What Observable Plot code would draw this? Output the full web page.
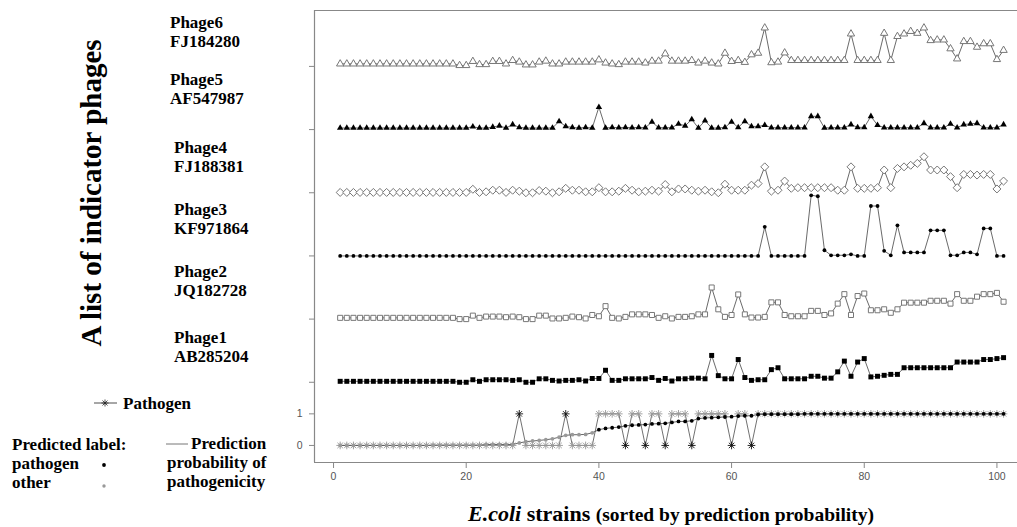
<!DOCTYPE html>
<html><head><meta charset="utf-8">
<script src="https://cdn.jsdelivr.net/npm/d3@7"></script>
<script src="https://cdn.jsdelivr.net/npm/@observablehq/plot@0.6"></script>
<style>
body{margin:0;background:#fff;}
#wrap{width:1017px;height:527px;overflow:hidden;}
</style></head><body><div id="wrap"></div>
<script>
// ---------------- data ----------------
const strains = d3.range(1, 102); // E.coli strains sorted by prediction probability

const phageNames = ["Phage1", "Phage2", "Phage3", "Phage4", "Phage5", "Phage6"];
const phageAccessions = ["AB285204", "JQ182728", "KF971864", "FJ188381", "AF547987", "FJ184280"];
const phageOffsets = [2, 4, 6, 8, 10, 12];

const phage1 = [
  .03,.03,.03,.03,.03,.03,.03,.03,.03,.03,
  .03,.03,.03,.03,.03,.03,.03,.03,0,0,
  .08,.03,.08,.08,.08,.08,.06,.08,0,0,
  .11,.11,.06,.04,.06,.06,.08,.04,.12,.12,
  .38,.06,.06,.11,.11,.11,.11,.15,.06,.12,
  .04,.11,.11,.13,.13,.11,.85,.21,.11,.11,
  .72,.15,.06,.08,.08,.40,.46,.11,.11,.11,
  .11,.19,.19,.13,.13,.33,.67,.19,.64,.75,
  .17,.19,.22,.25,.25,.46,.46,.46,.46,.46,
  .46,.46,.46,.64,.64,.64,.64,.72,.72,.75,
  .78];
const phage2 = [
  .04,.04,.04,.04,.04,.04,.04,.04,.04,.04,
  .04,.04,.04,.04,.04,.04,.04,.04,0,0,
  .11,.04,.08,.08,.08,.06,.08,.06,0,0,
  .11,.11,.02,.02,.04,.08,.06,.02,.13,.09,
  .41,.04,.02,.07,.15,.15,.15,.13,.04,.09,
  .02,.07,.07,.09,.15,.15,1.0,.31,.07,.13,
  .78,.15,.05,.05,.07,.53,.53,.13,.09,.09,
  .09,.26,.26,.13,.18,.49,.79,.13,.73,.81,
  .28,.28,.31,.20,.31,.52,.52,.52,.52,.58,
  .58,.58,.49,.79,.58,.58,.71,.79,.79,.83,
  .55];
const phage3 = [
  0,0,0,0,0,0,0,0,0,0,
  0,0,0,0,0,0,0,0,0,0,
  0,0,0,0,0,0,0,0,0,0,
  0,0,0,0,0,0,0,0,0,0,
  0,0,0,0,0,0,0,0,0,0,
  0,0,0,0,0,0,0,0,0,0,
  0,0,0,0,.92,0,0,0,0,0,
  0,1.92,1.89,.18,.02,.02,.02,.05,0,0,
  1.58,1.58,.16,.02,.97,.11,.11,.11,.11,.81,
  .81,.81,.02,.02,.11,.11,.05,.87,.87,0,
  0];
const phage4 = [
  .01,.01,.01,.01,.01,.01,.01,.01,.01,.01,
  .01,.01,.01,.01,.01,.01,.01,.01,.01,.01,
  .11,.01,.03,.08,.08,.01,.08,.05,0,0,
  .07,.05,0,.03,.14,.08,.08,.03,.03,.16,
  .03,.03,.05,.14,.08,.03,.05,.08,.05,.26,
  .03,.12,.12,.08,.05,.08,.03,0,.27,.08,
  .08,.08,.24,.29,.82,.05,.08,.37,.14,.16,
  .16,.16,.16,.16,.16,.08,.08,.82,.14,.14,
  .14,.16,.72,.16,.77,.82,.87,.93,1.14,.72,
  .72,.72,.51,.16,.58,.58,.56,.58,.58,.12,
  .37];
const phage5 = [
  .05,.05,.05,.05,.05,.05,.05,.05,.05,.05,
  .05,.05,.05,.05,.05,.05,.05,.05,.05,.05,
  .09,.05,.05,.08,.12,.05,.16,.07,.05,.05,
  .05,.05,.05,.26,.10,.07,.05,.07,.05,.71,
  .05,.07,.06,.07,.06,.07,.06,.24,.06,.06,
  .06,.18,.12,.32,.05,.28,.05,.05,.07,.24,
  .07,.26,.10,.10,.14,.06,.06,.06,.06,.06,
  .06,.42,.42,.05,.06,.06,.06,.16,.07,.07,
  .42,.14,.06,.06,.06,.06,.06,.06,.20,.06,
  .06,.06,.18,.06,.16,.18,.20,.06,.06,.06,
  .16];
const phage6 = [
  .08,.08,.08,.08,.08,.08,.08,.08,.08,.08,
  .08,.08,.08,.08,.08,.08,.08,.08,.03,.03,
  .16,.06,.06,.16,.16,.08,.19,.14,.05,.05,
  .14,.17,.08,.08,.14,.14,.14,.14,.14,.21,
  .11,.08,.06,.14,.14,.14,.11,.17,.17,.40,
  .17,.17,.17,.19,.11,.17,.11,.08,.42,.16,
  .19,.13,.37,.42,1.22,.12,.14,.43,.19,.19,
  .19,.19,.19,.19,.19,.19,.19,1.03,.19,.19,
  .19,.19,1.05,.19,.95,1.03,1.11,1.05,1.22,.82,
  .84,.84,.56,.24,.79,.79,.61,.72,.72,.22,
  .51];

// true label (1 = pathogen)
const pathogen = [
  0,0,0,0,0,0,0,0,0,0,
  0,0,0,0,0,0,0,0,0,0,
  0,0,0,0,0,0,0,1,0,0,
  0,0,0,0,1,0,0,0,0,1,
  1,1,1,0,1,1,0,1,1,0,
  1,1,1,0,1,1,1,1,1,0,
  1,1,0,1,1,1,1,1,1,1,
  1,1,1,1,1,1,1,1,1,1,
  1,1,1,1,1,1,1,1,1,1,
  1,1,1,1,1,1,1,1,1,1,
  1];
// prediction probability of pathogenicity
const probability = [
  0,0,0,0,0,0,0,0,0,0,
  0,0,0,0,.01,.01,.01,.01,.01,.01,
  .01,.01,.03,.03,.03,.03,.03,.08,.12,.14,
  .16,.18,.21,.26,.32,.34,.34,.35,.40,.50,
  .54,.56,.58,.62,.64,.65,.66,.68,.69,.70,
  .73,.76,.76,.78,.85,.87,.88,.89,.90,.91,
  .93,.94,.94,.98,.99,.99,.99,.99,.99,.99,
  1,1,1,1,1,1,1,1,1,1,
  1,1,1,1,1,1,1,1,1,1,
  1,1,1,1,1,1,1,1,1,1,
  1];
const threshold = 0.5;

const xTicks = [0, 20, 40, 60, 80, 100];
const yTicks = [0, 1, 2, 4, 6, 8, 10, 12];

// ---------------- table ----------------
const phageSeries = [phage1, phage2, phage3, phage4, phage5, phage6];
const phageRows = phageSeries.map((vals, k) =>
  strains.map((s, i) => ({strain: s, phage: phageNames[k], y: phageOffsets[k] + vals[i]})));
const allPhageRows = phageRows.flat();
const bottomRows = strains.map((s, i) => {
  const pred = probability[i] >= threshold ? 1 : 0;
  return {strain: s, pathogen: pathogen[i], prob: probability[i], pred,
          wrong: pred !== pathogen[i]};
});

const xDomain = [-2.87, 103.1];
const yDomain = [-0.54, 13.77];
const serif = "'Liberation Serif','Times New Roman',serif";
const sans = "'Liberation Sans',Arial,sans-serif";

// annotations (titles, phage labels, legend) drawn as a render mark
function annotations(index, scales, values, dims) {
  const g = d3.create("svg:g").attr("font-family", serif).attr("font-weight", "bold")
    .attr("fill", "#000").attr("text-anchor", "start");
  g.append("text").attr("transform", "translate(101,193) rotate(-90)").attr("text-anchor", "middle")
    .attr("font-size", 29).text("A list of indicator phages");
  const labelPos = [[174, 343], [174, 277], [174, 215], [174, 153], [170, 85], [170, 28]];
  phageNames.forEach((n, k) => {
    const [lx, ly] = labelPos[k];
    g.append("text").attr("x", lx).attr("y", ly).attr("font-size", 17).text(n);
    g.append("text").attr("x", lx).attr("y", ly + 19).attr("font-size", 17).text(phageAccessions[k]);
  });
  // pathogen legend
  g.append("line").attr("x1", 94).attr("x2", 117).attr("y1", 403).attr("y2", 403).attr("stroke", "#222").attr("stroke-width", 0.8);
  g.append("path").attr("d", "M101.5,403H108.5M105,399.5V406.5M102.5,400.5L107.5,405.5M107.5,400.5L102.5,405.5")
    .attr("stroke", "#222").attr("stroke-width", 0.8).attr("fill", "none");
  g.append("text").attr("x", 123).attr("y", 409).attr("font-size", 17).text("Pathogen");
  // predicted label legend
  g.append("text").attr("x", 12).attr("y", 450).attr("font-size", 17).text("Predicted label:");
  g.append("text").attr("x", 12).attr("y", 469).attr("font-size", 17).text("pathogen");
  g.append("text").attr("x", 12).attr("y", 488).attr("font-size", 17).text("other");
  g.append("circle").attr("cx", 104).attr("cy", 465).attr("r", 1.9).attr("fill", "#000");
  g.append("circle").attr("cx", 104).attr("cy", 486).attr("r", 1.7).attr("fill", "#999");
  // probability legend
  g.append("line").attr("x1", 166).attr("x2", 188).attr("y1", 444).attr("y2", 444).attr("stroke", "#666").attr("stroke-width", 0.9);
  g.append("text").attr("x", 191).attr("y", 449).attr("font-size", 17).text("Prediction");
  g.append("text").attr("x", 167).attr("y", 468).attr("font-size", 17).text("probability of");
  g.append("text").attr("x", 167).attr("y", 487).attr("font-size", 17).text("pathogenicity");
  // x axis title
  const t = g.append("text").attr("x", 468).attr("y", 521);
  t.append("tspan").attr("font-size", 22).attr("font-style", "italic").text("E.coli");
  t.append("tspan").attr("font-size", 22).text(" strains ");
  t.append("tspan").attr("font-size", 19.5).text("(sorted by prediction probability)");
  return g.node();
}

const chart = Plot.plot({
  width: 1017,
  height: 527,
  marginLeft: 314,
  marginRight: 0,
  marginTop: 10,
  marginBottom: 65,
  style: {background: "#fff"},
  x: {domain: xDomain, label: null},
  y: {domain: yDomain, label: null},
  marks: [
    Plot.ruleX([xDomain[0]], {stroke: "#888", strokeWidth: 1.2}),
    Plot.ruleY([yDomain[0], yDomain[1]], {stroke: "#888", strokeWidth: 1.2}),
    Plot.axisX({ticks: xTicks, tickSize: 6, tickPadding: 4, fontSize: 10.5, fontFamily: sans, color: "#555", stroke: "#888"}),
    Plot.axisY({ticks: yTicks, tickSize: 5, tickPadding: 7, fontSize: 10.5, fontFamily: sans, color: "#555", stroke: "#888",
                tickFormat: d => (d <= 1 ? String(d) : "")}),
    // phage lines
    Plot.line(allPhageRows, {x: "strain", y: "y", z: "phage", stroke: "#444", strokeWidth: 0.8}),
    Plot.dot(phageRows[5], {x: "strain", y: "y", symbol: "triangle2", r: 3.5, stroke: "#777", fill: "#fff", strokeWidth: 1}),
    Plot.dot(phageRows[4], {x: "strain", y: "y", symbol: "triangle", r: 2.4, fill: "#000"}),
    Plot.dot(phageRows[3], {x: "strain", y: "y", symbol: "diamond2", r: 3.6, stroke: "#777", fill: "#fff", strokeWidth: 1}),
    Plot.dot(phageRows[2], {x: "strain", y: "y", symbol: "circle", r: 1.9, fill: "#000"}),
    Plot.dot(phageRows[1], {x: "strain", y: "y", symbol: "square2", r: 3.2, stroke: "#777", fill: "#fff", strokeWidth: 1}),
    Plot.dot(phageRows[0], {x: "strain", y: "y", symbol: "square", r: 2.8, fill: "#000"}),
    // true pathogen label (stars)
    Plot.line(bottomRows, {x: "strain", y: "pathogen", stroke: "#333", strokeWidth: 0.7}),
    Plot.dot(bottomRows, {x: "strain", y: "pathogen", symbol: "plus", r: 2.6, stroke: d => d.wrong ? "#111" : "#999", strokeWidth: 0.9}),
    Plot.dot(bottomRows, {x: "strain", y: "pathogen", symbol: "times", r: 2.6, stroke: d => d.wrong ? "#111" : "#999", strokeWidth: 0.9}),
    // prediction probability
    Plot.line(bottomRows, {x: "strain", y: "prob", stroke: "#555", strokeWidth: 0.9}),
    Plot.dot(bottomRows, {x: "strain", y: "prob", r: 1.9, fill: d => d.pred ? "#000" : "#999"}),
    annotations
  ]
});
document.getElementById("wrap").appendChild(chart);
</script>
</body></html>
